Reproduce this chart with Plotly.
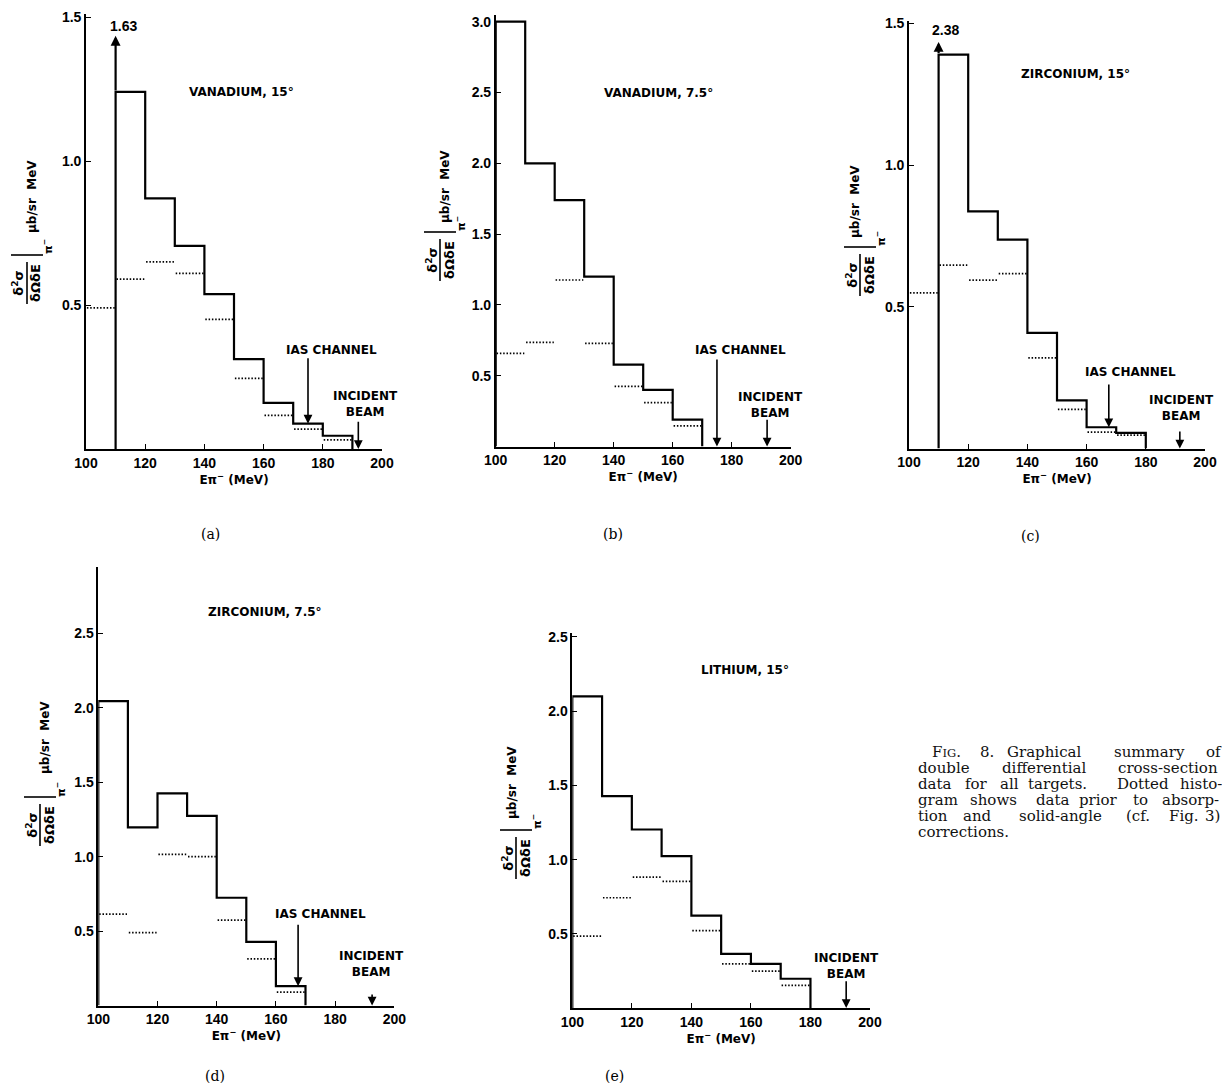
import plotly.graph_objects as go

W, H = 1222, 1083

# ---------------- data ----------------
bin_edges = [100, 110, 120, 130, 140, 150, 160, 170, 180, 190, 200]
x_tick_values = [100, 120, 140, 160, 180, 200]

panel_letters = ["(a)", "(b)", "(c)", "(d)", "(e)"]
panel_titles = ["VANADIUM, 15°", "VANADIUM, 7.5°", "ZIRCONIUM, 15°",
                "ZIRCONIUM, 7.5°", "LITHIUM, 15°"]

# corrected cross sections (solid histogram), one value per 10 MeV bin from 100 MeV
solid_a = [1.63, 1.24, 0.87, 0.705, 0.538, 0.312, 0.16, 0.088, 0.046]
solid_b = [3.0, 2.0, 1.74, 1.20, 0.578, 0.40, 0.19]
solid_c = [2.38, 1.39, 0.837, 0.737, 0.408, 0.17, 0.075, 0.055]
solid_d = [2.046, 1.197, 1.425, 1.275, 0.724, 0.428, 0.13]
solid_e = [2.10, 1.428, 1.203, 1.024, 0.623, 0.365, 0.298, 0.197]

# uncorrected data (dotted histogram)
dotted_a = [0.49, 0.59, 0.65, 0.61, 0.45, 0.245, 0.117, 0.069, 0.032]
dotted_b = [0.657, 0.735, 1.176, 0.728, 0.425, 0.31, 0.145]
dotted_c = [0.549, 0.647, 0.594, 0.617, 0.32, 0.138, 0.058, 0.047]
dotted_d = [0.614, 0.49, 1.015, 1.0, 0.574, 0.314, 0.09]
dotted_e = [0.484, 0.743, 0.882, 0.853, 0.522, 0.298, 0.248, 0.152]

solid_values = [solid_a, solid_b, solid_c, solid_d, solid_e]
dotted_values = [dotted_a, dotted_b, dotted_c, dotted_d, dotted_e]

y_tick_values = [
    [0.5, 1.0, 1.5],
    [0.5, 1.0, 1.5, 2.0, 2.5, 3.0],
    [0.5, 1.0, 1.5],
    [0.5, 1.0, 1.5, 2.0, 2.5],
    [0.5, 1.0, 1.5, 2.0, 2.5],
]
y_max = [1.51, 3.05, 1.51, 2.95, 2.53]

ias_channel_energy = [175, 175, 167.5, 167.5, None]
incident_beam_energy = [192, 192, 191.5, 192.5, 192]

caption_words = [
    ["F<span style='font-size:11.5px'>IG</span>.", "8.", "Graphical", "summary", "of"],
    ["double", "differential", "cross-section"],
    ["data", "for", "all", "targets.", "Dotted", "histo-"],
    ["gram", "shows", "data", "prior", "to", "absorp-"],
    ["tion", "and", "solid-angle", "(cf.", "Fig.", "3)"],
    ["corrections."],
]

# ---------------- layout geometry (pixels) ----------------
caption_word_x = [
    [930, 978, 1005, 1112, 1204],
    [916, 1000, 1116],
    [916, 963, 998, 1026, 1115, 1178],
    [916, 968, 1034, 1077, 1131, 1160],
    [916, 961, 1017, 1124, 1167, 1203],
    [916],
]
caption_line_y = [752, 768, 784, 800, 816, 832]

geom = [
    dict(x0=86, x1=382, ybot=449, unit=288,
         title=(152.7, 1.24), ias_tail=0.32, ias_lab=(183.1, 0.344),
         beam_tail=0.10, beam_lab=(194.3, 0.155), off_lab=(112.5, 1.47),
         frac=(27, 283), units=(32, 197), letter=(210, 534)),
    dict(x0=495.7, x1=790.7, ybot=446.5, unit=141.6,
         title=(155.1, 2.50), ias_tail=0.625, ias_lab=(182.9, 0.68),
         beam_tail=0.20, beam_lab=(193.0, 0.29), off_lab=None,
         frac=(440, 260), units=(445, 186), letter=(613, 534)),
    dict(x0=909, x1=1205, ybot=448.5, unit=283.4,
         title=(156.1, 1.32), ias_tail=0.231, ias_lab=(174.7, 0.271),
         beam_tail=0.065, beam_lab=(192.2, 0.142), off_lab=(112.2, 1.475),
         frac=(860, 275), units=(855, 202), letter=(1030, 536)),
    dict(x0=98.3, x1=394.3, ybot=1005.5, unit=148.8,
         title=(156.4, 2.646), ias_tail=0.552, ias_lab=(174.9, 0.615),
         beam_tail=0.084, beam_lab=(192.4, 0.278), off_lab=None,
         frac=(40, 825), units=(45, 738), letter=(215, 1076)),
    dict(x0=572.3, x1=870, ybot=1008, unit=148.4,
         title=(158.0, 2.28), ias_tail=None, ias_lab=None,
         beam_tail=0.19, beam_lab=(192.2, 0.281), off_lab=None,
         frac=(516, 858), units=(512, 783), letter=(614, 1076)),
]

SANS = "Liberation Sans"
WIDE = "DejaVu Sans"
SERIF = "DejaVu Serif"
BLACK = "black"


def px(xp):
    return xp / W


def py(yp):
    return 1 - yp / H


fig = go.Figure()
annotations = []
shapes = []
layout_axes = {}

for i in range(5):
    g = geom[i]
    n = i + 1
    xa = "xaxis" if n == 1 else f"xaxis{n}"
    ya = "yaxis" if n == 1 else f"yaxis{n}"
    xr = "x" if n == 1 else f"x{n}"
    yr = "y" if n == 1 else f"y{n}"
    ymax = y_max[i]
    ytop = g["ybot"] - ymax * g["unit"]

    layout_axes[xa] = dict(
        domain=[px(g["x0"]), px(g["x1"])], anchor=yr, range=[100, 200],
        showline=True, linecolor=BLACK, linewidth=1.6, mirror=False,
        ticks="inside", ticklen=5, tickwidth=1.4, tickcolor=BLACK,
        tickvals=x_tick_values, showgrid=False, zeroline=False,
        automargin=False,
        tickfont=dict(family=SANS, size=14, color=BLACK, weight="bold"),
        title=dict(text="Eπ<sup>−</sup> (MeV)", standoff=4,
                   font=dict(family=WIDE, size=12, color=BLACK, weight="bold")),
    )
    layout_axes[ya] = dict(
        domain=[py(g["ybot"]), py(ytop)], anchor=xr, range=[0, ymax],
        showline=True, linecolor=BLACK, linewidth=1.6,
        ticks="inside", ticklen=5, tickwidth=1.4, tickcolor=BLACK,
        tickvals=y_tick_values[i], tickformat=".1f",
        showgrid=False, zeroline=False, automargin=False,
        tickfont=dict(family=SANS, size=14, color=BLACK, weight="bold"),
    )

    # ---- solid histogram ----
    vals = solid_values[i]
    nb = len(vals)
    start = 1 if vals[0] > ymax else 0
    xs = [bin_edges[start]]
    ys = [0]
    for k in range(start, nb):
        xs.append(bin_edges[k])
        ys.append(vals[k])
    xs += [bin_edges[nb], bin_edges[nb]]
    ys += [vals[nb - 1], 0]
    fig.add_trace(go.Scatter(x=xs, y=ys, mode="lines", line_shape="hv",
                             line=dict(color=BLACK, width=2.2),
                             xaxis=xr, yaxis=yr, showlegend=False,
                             hoverinfo="skip"))

    # off-scale first bin: arrow + value
    if start == 1:
        tip = 0.95 * ymax
        annotations.append(dict(
            x=bin_edges[1], y=tip, ax=bin_edges[1], ay=vals[1],
            xref=xr, yref=yr, axref=xr, ayref=yr, text="", showarrow=True,
            arrowhead=2, arrowsize=0.9, arrowwidth=2.2, arrowcolor=BLACK,
            standoff=0, startstandoff=0))
        lx, ly = g["off_lab"]
        annotations.append(dict(
            x=lx, y=ly, xref=xr, yref=yr, text=f"{vals[0]:.2f}",
            showarrow=False, xanchor="center", yanchor="middle",
            font=dict(family=SANS, size=14, color=BLACK, weight="bold")))

    # ---- dotted histogram ----
    dv = dotted_values[i]
    dx, dy = [], []
    for k, v in enumerate(dv):
        dx += [bin_edges[k] + 0.3, bin_edges[k + 1] - 0.3, None]
        dy += [v, v, None]
    fig.add_trace(go.Scatter(x=dx, y=dy, mode="lines",
                             line=dict(color=BLACK, width=1.7, dash="1.5px,1.8px"),
                             xaxis=xr, yaxis=yr, showlegend=False,
                             hoverinfo="skip"))

    def hist_height(e, vals=vals):
        for k in range(len(vals)):
            if bin_edges[k] <= e < bin_edges[k + 1]:
                return vals[k]
        return 0

    # ---- title ----
    tx, ty = g["title"]
    annotations.append(dict(
        x=tx, y=ty, xref=xr, yref=yr, text=panel_titles[i], showarrow=False,
        xanchor="center", yanchor="middle",
        font=dict(family=WIDE, size=12, color=BLACK, weight="bold")))

    # ---- IAS channel ----
    e_ias = ias_channel_energy[i]
    if e_ias is not None:
        annotations.append(dict(
            x=e_ias, y=hist_height(e_ias), ax=e_ias, ay=g["ias_tail"],
            xref=xr, yref=yr, axref=xr, ayref=yr, text="", showarrow=True,
            arrowhead=2, arrowsize=1.1, arrowwidth=1.6, arrowcolor=BLACK,
            standoff=0, startstandoff=0))
        lx, ly = g["ias_lab"]
        annotations.append(dict(
            x=lx, y=ly, xref=xr, yref=yr, text="IAS CHANNEL",
            showarrow=False, xanchor="center", yanchor="middle",
            font=dict(family=WIDE, size=12, color=BLACK, weight="bold")))

    # ---- incident beam ----
    e_b = incident_beam_energy[i]
    annotations.append(dict(
        x=e_b, y=hist_height(e_b), ax=e_b, ay=g["beam_tail"],
        xref=xr, yref=yr, axref=xr, ayref=yr, text="", showarrow=True,
        arrowhead=2, arrowsize=1.1, arrowwidth=1.6, arrowcolor=BLACK,
        standoff=0, startstandoff=0))
    lx, ly = g["beam_lab"]
    annotations.append(dict(
        x=lx, y=ly, xref=xr, yref=yr, text="INCIDENT<br>BEAM",
        showarrow=False, xanchor="center", yanchor="middle",
        font=dict(family=WIDE, size=12, color=BLACK, weight="bold")))

    # ---- y-axis title (rotated fraction) ----
    fcx, fcy = g["frac"]
    annotations.append(dict(
        x=px(fcx), y=py(fcy), xref="paper", yref="paper",
        text="δ<sup>2</sup>σ<br>δΩδE", textangle=-90, showarrow=False,
        xanchor="center", yanchor="middle",
        font=dict(family=WIDE, size=13, color=BLACK, weight="bold")))
    shapes.append(dict(type="line", xref="paper", yref="paper",
                       x0=px(fcx), x1=px(fcx), y0=py(fcy - 21), y1=py(fcy + 21),
                       line=dict(color=BLACK, width=1.6)))
    shapes.append(dict(type="line", xref="paper", yref="paper",
                       x0=px(fcx - 16), x1=px(fcx + 16), y0=py(fcy - 28), y1=py(fcy - 28),
                       line=dict(color=BLACK, width=1.6)))
    annotations.append(dict(
        x=px(fcx + 20), y=py(fcy - 36), xref="paper", yref="paper",
        text="π<sup>−</sup>", textangle=-90, showarrow=False,
        xanchor="center", yanchor="middle",
        font=dict(family=WIDE, size=11, color=BLACK, weight="bold")))
    ucx, ucy = g["units"]
    annotations.append(dict(
        x=px(ucx), y=py(ucy), xref="paper", yref="paper",
        text="μb/sr  MeV", textangle=-90, showarrow=False,
        xanchor="center", yanchor="middle",
        font=dict(family=WIDE, size=12, color=BLACK, weight="bold")))

    # ---- panel letter ----
    lx, ly = g["letter"]
    annotations.append(dict(
        x=px(lx), y=py(ly), xref="paper", yref="paper", text=panel_letters[i],
        showarrow=False, xanchor="center", yanchor="middle",
        font=dict(family=SERIF, size=14, color=BLACK)))

# ---- caption (word positions reproduce the justified setting) ----
for words, xs_, yy in zip(caption_words, caption_word_x, caption_line_y):
    for wd, xx in zip(words, xs_):
        annotations.append(dict(
            x=px(xx), y=py(yy), xref="paper", yref="paper", text=wd,
            showarrow=False, xanchor="left", yanchor="middle", align="left",
            font=dict(family=SERIF, size=15, color="#111")))

fig.update_layout(
    width=W, height=H, autosize=False,
    margin=dict(l=0, r=0, t=0, b=0, pad=0, autoexpand=False),
    paper_bgcolor="white", plot_bgcolor="white",
    showlegend=False, annotations=annotations, shapes=shapes,
    **layout_axes,
)

fig.write_html(
    "out.html",
    config={"responsive": False, "displayModeBar": False},
    post_script="document.body.style.margin='0';document.body.style.overflow='hidden';",
)
